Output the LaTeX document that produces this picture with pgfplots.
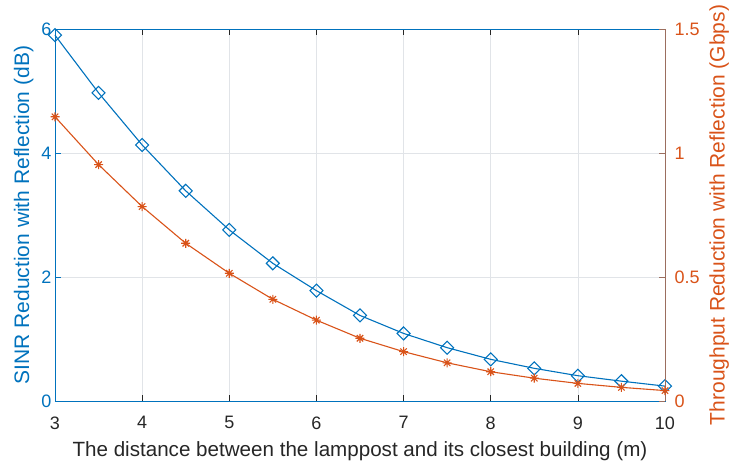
\documentclass[border=0pt]{standalone}
\usepackage{pgfplots}
\pgfplotsset{compat=1.18}
\usepackage{fontspec}
\setmainfont{Liberation Sans}
\definecolor{mblue}{rgb}{0,0.447,0.741}
\definecolor{morange}{rgb}{0.85,0.325,0.098}
\definecolor{mspine}{RGB}{155,110,95}
\definecolor{mgrid}{RGB}{225,228,232}
\definecolor{mdark}{RGB}{38,38,38}
\pgfdeclareplotmark{ast8}{%
  \pgfpathmoveto{\pgfqpoint{0pt}{\pgfplotmarksize}}\pgfpathlineto{\pgfqpoint{0pt}{-\pgfplotmarksize}}%
  \pgfpathmoveto{\pgfqpoint{\pgfplotmarksize}{0pt}}\pgfpathlineto{\pgfqpoint{-\pgfplotmarksize}{0pt}}%
  \pgfpathmoveto{\pgfqpoint{0.707\pgfplotmarksize}{0.707\pgfplotmarksize}}\pgfpathlineto{\pgfqpoint{-0.707\pgfplotmarksize}{-0.707\pgfplotmarksize}}%
  \pgfpathmoveto{\pgfqpoint{-0.707\pgfplotmarksize}{0.707\pgfplotmarksize}}\pgfpathlineto{\pgfqpoint{0.707\pgfplotmarksize}{-0.707\pgfplotmarksize}}%
  \pgfusepathqstroke}
\pgfplotstableread{
x sinr
3 5.90
3.5 4.97
4 4.13
4.5 3.39
5 2.76
5.5 2.22
6 1.78
6.5 1.38
7 1.09
7.5 0.86
8 0.672
8.5 0.527
9 0.408
9.5 0.32
10 0.24
}\sinrdata
\pgfplotstableread{
x thr
3 1.146
3.5 0.953
4 0.784
4.5 0.636
5 0.515
5.5 0.410
6 0.326
6.5 0.253
7 0.199
7.5 0.154
8 0.118
8.5 0.092
9 0.071
9.5 0.055
10 0.042
}\thrdata
\begin{document}
\begin{tikzpicture}
\useasboundingbox (-55pt,-60pt) rectangle (674pt,401pt);
\begin{axis}[
  at={(0,0)}, anchor=south west,
  scale only axis, width=610pt, height=372pt,
  xmin=3, xmax=10, ymin=0, ymax=6,
  xtick={3,4,...,10}, ytick={0,2,4,6},
  tick align=inside, xtick pos=both, ytick pos=left,
  major tick length=6pt,
  grid=major, major grid style={mgrid, line width=0.6pt},
  x axis line style={mdark, line width=0.7pt},
  y axis line style={mblue, line width=0.7pt},
  x tick style={mdark, line width=0.7pt},
  y tick style={mblue, line width=0.7pt},
  ticklabel style={font=\fontsize{18}{20}\selectfont},
  x tick label style={mdark, yshift=-12pt},
  y tick label style={mblue},
  /pgf/number format/assume math mode=true,
  xlabel={The distance between the lamppost and its closest building (m)},
  ylabel={SINR Reduction with Reflection (dB)},
  label style={font=\fontsize{21}{23}\selectfont},
  xlabel style={mdark, yshift=-5pt, font=\fontsize{20.6}{23}\selectfont},
  ylabel style={mblue, yshift=1pt},
  clip=false,
]
\addplot[mblue, line width=1.1pt, mark=square, mark size=4.6pt, mark options={rotate=45, line width=1.1pt}] table[x=x,y=sinr] {\sinrdata};
\end{axis}
\begin{axis}[
  at={(0,0)}, anchor=south west,
  scale only axis, width=610pt, height=372pt,
  xmin=3, xmax=10, ymin=0, ymax=1.5,
  axis x line=none, axis y line*=right,
  ytick={0,0.5,1,1.5},
  yticklabels={0,0.5,1,1.5},
  tick align=inside,
  major tick length=6pt,
  y axis line style={mspine, line width=0.7pt, -},
  y tick style={mspine, line width=0.7pt},
  ticklabel style={font=\fontsize{18}{20}\selectfont},
  y tick label style={morange, xshift=6pt},
  /pgf/number format/assume math mode=true,
  ylabel={Throughput Reduction with Reflection (Gbps)},
  ylabel style={morange, font=\fontsize{21}{23}\selectfont, yshift=-3pt},
  clip=false,
]
\addplot[morange, line width=1.1pt, mark=ast8, mark size=4.5pt, mark options={line width=1.1pt}] table[x=x,y=thr] {\thrdata};
\end{axis}
\end{tikzpicture}
\end{document}
